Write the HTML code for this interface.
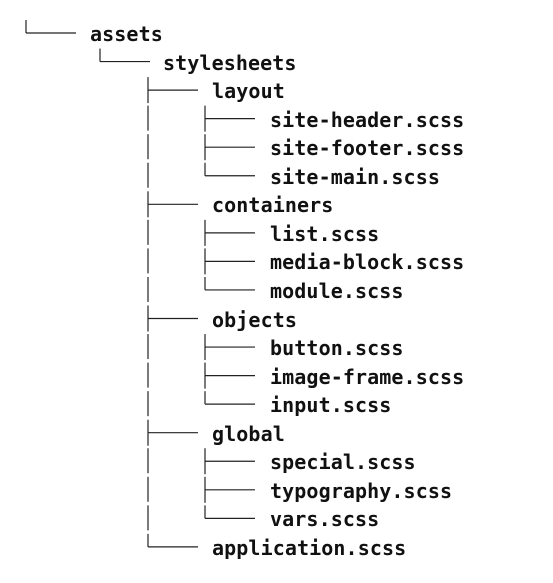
<!DOCTYPE html>
<html><head><meta charset="utf-8"><style>
body{margin:0;width:553px;height:583px;background:#fff;position:relative;overflow:hidden}
.t{position:absolute;font-family:"DejaVu Sans Mono","Liberation Mono",monospace;font-weight:bold;font-size:20px;letter-spacing:0.1px;color:#111;line-height:20px;white-space:pre}
svg{position:absolute;left:0;top:0}
</style></head><body>
<svg id="s" width="553" height="583"></svg>
<div id="c"></div>
<script>
var rows=[["assets",0,1],["stylesheets",1,1],["layout",2,0],["site-header.scss",3,0],["site-footer.scss",3,0],["site-main.scss",3,1],
["containers",2,0],["list.scss",3,0],["media-block.scss",3,0],["module.scss",3,1],
["objects",2,0],["button.scss",3,0],["image-frame.scss",3,0],["input.scss",3,1],
["global",2,0],["special.scss",3,0],["typography.scss",3,0],["vars.scss",3,1],
["application.scss",2,1]];
var lx=[26,100,148,205],tx=[90,163,212,270];
var svg="",html="";
rows.forEach(function(r,i){
 var y=33+28.55*i,l=r[1],x=lx[l];
 svg+='<line x1="'+x+'" y1="'+(y-13)+'" x2="'+x+'" y2="'+(r[2]?y:y+13)+'"/>';
 svg+='<line x1="'+x+'" y1="'+y+'" x2="'+(x+50)+'" y2="'+y+'"/>';
 if(l==3){svg+='<line x1="148" y1="'+(y-13)+'" x2="148" y2="'+(y+12)+'"/>';}
 html+='<div class="t" style="left:'+tx[l]+'px;top:'+(y-9)+'px">'+r[0]+'</div>';
});
document.getElementById("s").innerHTML='<g stroke="#222" stroke-width="1.2" fill="none">'+svg+'</g>';
document.getElementById("c").innerHTML=html;
</script>
</body></html>
